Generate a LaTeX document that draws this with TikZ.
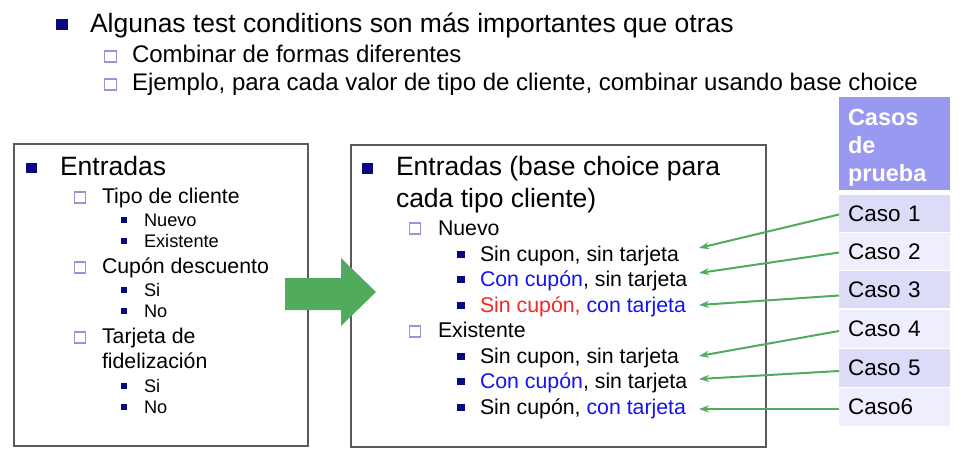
\documentclass[tikz,border=0pt]{standalone}
\usepackage{fontspec}
\setmainfont{Liberation Sans}
\usetikzlibrary{arrows.meta}
\definecolor{navy}{RGB}{10,10,128}
\definecolor{hollow}{RGB}{150,150,210}
\definecolor{tblue}{RGB}{20,20,240}
\definecolor{tred}{RGB}{240,40,40}
\definecolor{agreen}{RGB}{80,172,92}
\definecolor{hdrfill}{RGB}{153,153,242}
\definecolor{rowdark}{RGB}{220,220,248}
\definecolor{rowlight}{RGB}{238,238,252}
\definecolor{boxline}{RGB}{90,90,90}
\tikzset{
  x=1pt, y=-1pt,
  txt/.style={anchor=base west, inner sep=0pt, outer sep=0pt},
  tA/.style={txt, font=\fontsize{26.5}{30}\selectfont},
  tB/.style={txt, font=\fontsize{24}{28}\selectfont},
  tC/.style={txt, font=\fontsize{21.3}{25}\selectfont},
  tD/.style={txt, font=\fontsize{18.2}{21}\selectfont},
  bulA/.style={fill=navy, draw=none},
  bulB/.style={fill=white, draw=hollow, line width=1.2pt},
  bulC/.style={fill=navy, draw=none},
  frame/.style={draw=boxline, line width=1.3pt, fill=white},
  cell/.style={anchor=north west, minimum width=111pt, inner ysep=0pt, inner xsep=9pt, outer sep=0pt,
    text width=93pt, align=left, font=\fontsize{22.5}{26}\selectfont},
  hdrtxt/.style={txt, text=white, font=\bfseries\fontsize{23.5}{28}\selectfont},
  link/.style={draw=agreen, line width=2pt, -{Stealth[length=10pt,width=7pt]}},
}
\begin{document}
\begin{tikzpicture}
\useasboundingbox (0,0) rectangle (964,456);
% ---- top bullets
\fill[bulA] (56,19) rectangle (68,30);
\node[tA] (t1) at (90,32) {Algunas test conditions son más importantes que otras};
\filldraw[bulB] (104.5,51) rectangle (116.5,62);
\node[tB] (t2) at (132,62) {Combinar de formas diferentes};
\filldraw[bulB] (104.5,79) rectangle (116.5,90);
\node[tB] (t3) at (132,90) {Ejemplo, para cada valor de tipo de cliente, combinar usando base choice};
% ---- left box
\draw[frame] (14,144) rectangle (308,446);
\fill[bulA] (26,163) rectangle (37,173);
\node[tA] (l1) at (60,175) {Entradas};
\filldraw[bulB] (74.5,192) rectangle (85.5,203);
\node[tC] (l2) at (102,203) {Tipo de cliente};
\fill[bulC] (121,217) rectangle (127,223);
\node[tD] (l3) at (144,226) {Nuevo};
\fill[bulC] (121,238) rectangle (127,244);
\node[tD] (l4) at (144,247) {Existente};
\filldraw[bulB] (74.5,262) rectangle (85.5,273);
\node[tC] (l5) at (102,273) {Cupón descuento};
\fill[bulC] (121,287) rectangle (127,293);
\node[tD] (l6) at (144,296) {Si};
\fill[bulC] (121,308) rectangle (127,314);
\node[tD] (l7) at (144,317) {No};
\filldraw[bulB] (74.5,332) rectangle (85.5,343);
\node[tC] (l8) at (102,343) {Tarjeta de};
\node[tC] (l9) at (102,368) {fidelización};
\fill[bulC] (121,383) rectangle (127,389);
\node[tD] (l10) at (144,392) {Si};
\fill[bulC] (121,404) rectangle (127,410);
\node[tD] (l11) at (144,413) {No};
% ---- middle box
\draw[frame] (351,145) rectangle (766,447);
\fill[bulA] (362,163) rectangle (373,174);
\node[tA] (m1) at (396,175) {Entradas (base choice para};
\node[tA] (m2) at (396,207) {cada tipo cliente)};
\filldraw[bulB] (409.5,223) rectangle (420.5,234);
\node[tC] (m3) at (438,235) {Nuevo};
\fill[bulC] (457,251) rectangle (465,258);
\node[tC] (m4) at (480,261) {Sin cupon, sin tarjeta};
\fill[bulC] (457,276) rectangle (465,283);
\node[tC] (m5) at (480,286) {\textcolor{tblue}{Con cupón}, sin tarjeta};
\fill[bulC] (457,302) rectangle (465,309);
\node[tC] (m6) at (480,312) {\textcolor{tred}{Sin cupón,} \textcolor{tblue}{con tarjeta}};
\filldraw[bulB] (409.5,326) rectangle (420.5,337);
\node[tC] (m7) at (438,337) {Existente};
\fill[bulC] (457,353) rectangle (465,360);
\node[tC] (m8) at (480,363) {Sin cupon, sin tarjeta};
\fill[bulC] (457,378) rectangle (465,385);
\node[tC] (m9) at (480,388) {\textcolor{tblue}{Con cupón}, sin tarjeta};
\fill[bulC] (457,404) rectangle (465,411);
\node[tC] (m10) at (480,414) {Sin cupón, \textcolor{tblue}{con tarjeta}};
% ---- big green arrow
\fill[agreen] (285,278) -- (341,278) -- (341,258) -- (376,292) -- (341,326) -- (341,310) -- (285,310) -- cycle;
% ---- table
\fill[hdrfill] (839,97) rectangle (950,190);
\node[hdrtxt] (h1) at (848,125) {Casos};
\node[hdrtxt] (h2) at (848,153) {de};
\node[hdrtxt] (h3) at (848,181) {prueba};
\node[cell, fill=rowdark, minimum height=37pt] (c1) at (839,195) {Caso 1};
\node[cell, fill=rowlight, minimum height=37pt] (c2) at (839,233) {Caso 2};
\node[cell, fill=rowdark, minimum height=37pt] (c3) at (839,271) {Caso 3};
\node[cell, fill=rowlight, minimum height=38pt] (c4) at (839,310) {Caso 4};
\node[cell, fill=rowdark, minimum height=38pt] (c5) at (839,349) {Caso 5};
\node[cell, fill=rowlight, minimum height=38pt] (c6) at (839,388) {Caso6};
% ---- connectors
\coordinate (e1) at (699,248);
\coordinate (e2) at (699,273);
\coordinate (e3) at (699,305);
\coordinate (e4) at (699,356);
\coordinate (e5) at (699,379);
\coordinate (e6) at (699,409);
\draw[link] ([yshift=-1pt]c1.west) -- (e1);
\draw[link] ([yshift=-1pt]c2.west) -- (e2);
\draw[link] ([yshift=-6pt]c3.west) -- (e3);
\draw[link] ([yshift=-2pt]c4.west) -- (e4);
\draw[link] ([yshift=-3pt]c5.west) -- (e5);
\draw[link] ([yshift=-2pt]c6.west) -- (e6);
\end{tikzpicture}
\end{document}
